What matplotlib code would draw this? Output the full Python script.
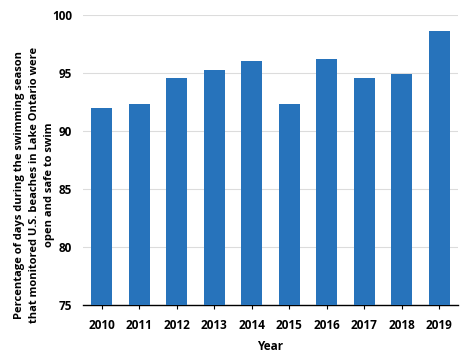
import matplotlib
matplotlib.use("Agg")
import matplotlib.pyplot as plt

years = ["2010", "2011", "2012", "2013", "2014", "2015", "2016", "2017", "2018", "2019"]
values = [92.0, 92.35, 94.6, 95.25, 96.0, 92.35, 96.2, 94.6, 94.9, 98.65]
yticks = [75, 80, 85, 90, 95, 100]

plt.rcParams['font.family'] = ['Open Sans', 'DejaVu Sans']

fig = plt.figure(figsize=(4.74, 3.59), dpi=100)
ax = fig.add_axes([83/474, 1 - 305/359, (458-83)/474, (305-15)/359])

x = list(range(len(years)))
ax.bar(x, values, width=0.55, color='#2773BB', zorder=3)
ax.set_xlim(-0.5, len(years) - 0.5)
ax.set_ylim(75, 100)
ax.set_yticks(yticks)
ax.set_yticklabels([str(t) for t in yticks], fontsize=8.5, fontweight='bold')
ax.set_xticks(x)
ax.set_xticklabels(years, fontsize=8.5, fontweight='bold')
ax.grid(axis='y', color='#dcdcdc', linewidth=0.8, zorder=0)
for s in ['top', 'right', 'left']:
    ax.spines[s].set_visible(False)
ax.spines['bottom'].set_color('black')
ax.spines['bottom'].set_linewidth(1.0)
ax.tick_params(axis='y', length=0, pad=8)
ax.tick_params(axis='x', length=3, direction='out', pad=7)
ax.set_xlabel('Year', fontsize=8.5, fontweight='bold', labelpad=6)
ax.set_ylabel('Percentage of days during the swimming season\nthat monitored U.S. beaches in Lake Ontario were\nopen and safe to swim',
              fontsize=8, fontweight='bold', linespacing=1.5)
ax.yaxis.set_label_coords(-0.075, 0.414)

fig.savefig('out.png', dpi=100, facecolor='white')
